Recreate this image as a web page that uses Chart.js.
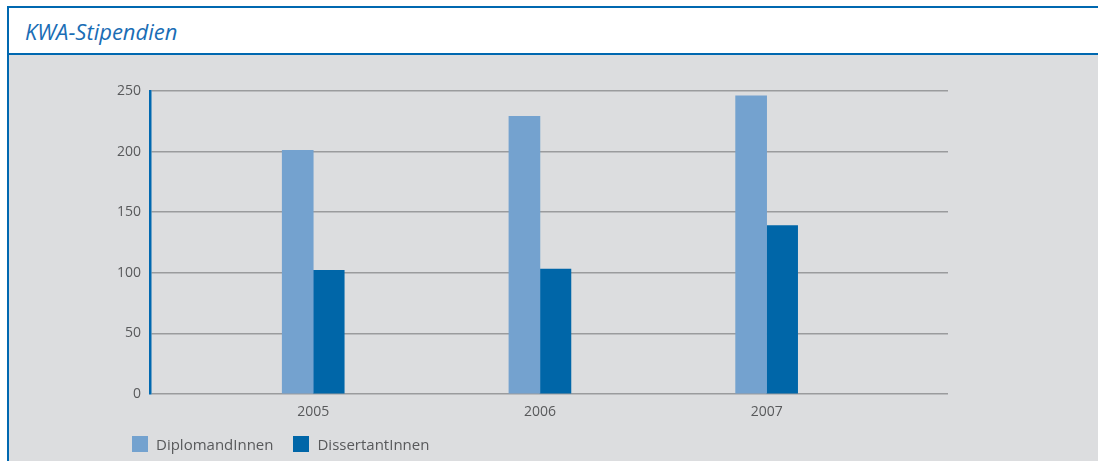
<!DOCTYPE html>
<html>
<head>
<meta charset="utf-8">
<script src="https://cdn.jsdelivr.net/npm/chart.js@4"></script>
<style>
  html, body { margin: 0; padding: 0; width: 1098px; height: 461px; overflow: hidden; background: #ffffff; font-family: "Open Sans", "Noto Sans", sans-serif; }
  #frame { position: absolute; left: 7px; top: 6px; width: 1091px; height: 455px; border-left: 2px solid #0068b0; border-top: 2px solid #0068b0; box-sizing: border-box; }
  #title { position: absolute; left: 0; top: 0; width: 100%; height: 45px; background: #fff; border-bottom: 2px solid #0068b0; box-sizing: content-box; }
  #title span { position: absolute; left: 16px; top: 8px; font-style: italic; font-size: 22px; color: #1a6db5; letter-spacing: 0px; }
  #plot { position: absolute; left: 0; top: 47px; width: 1089px; height: 406px; background: #dcdddf; }
  #chartwrap { position: absolute; left: 0; top: 0; width: 1089px; height: 406px; }
  #legend { position: absolute; left: 123px; top: 381px; font-size: 15px; color: #58595b; white-space: nowrap; }
  #legend .item { display: inline-block; margin-right: 20px; vertical-align: top; }
  #legend .sw { display: inline-block; width: 16px; height: 16px; vertical-align: top; margin-right: 8px; }
  #legend .lbl { display: inline-block; line-height: 16px; vertical-align: top; }
</style>
</head>
<body>
<div id="frame">
  <div id="title"><span>KWA-Stipendien</span></div>
  <div id="plot">
    <div id="chartwrap"><canvas id="c" width="1089" height="406"></canvas></div>
    <div id="legend"></div>
  </div>
</div>
<script>
const categories = ['2005', '2006', '2007'];
const seriesNames = ['DiplomandInnen', 'DissertantInnen'];
const diplomandInnen = [201, 229, 246];
const dissertantInnen = [102, 103, 139];
const yTicks = [0, 50, 100, 150, 200, 250];
const colors = ['#74a2cf', '#0066a8'];

const seriesValues = [diplomandInnen, dissertantInnen];

// HTML legend built from series names
const legend = document.getElementById('legend');
seriesNames.forEach((name, i) => {
  const it = document.createElement('span');
  it.className = 'item';
  const sw = document.createElement('span');
  sw.className = 'sw';
  sw.style.background = colors[i];
  const lb = document.createElement('span');
  lb.className = 'lbl';
  lb.textContent = name;
  it.appendChild(sw); it.appendChild(lb);
  legend.appendChild(it);
});

const datasets = seriesNames.map((name, i) => ({
  label: name,
  data: categories.map((c, j) => ({ x: j, y: seriesValues[i][j] })),
  backgroundColor: colors[i],
  borderWidth: 0,
  barThickness: 31,
  grouped: true
}));

new Chart(document.getElementById('c'), {
  type: 'bar',
  data: { datasets },
  options: {
    responsive: false,
    animation: false,
    devicePixelRatio: 1,
    layout: { padding: { left: 0, right: 150, top: 36, bottom: 37 } },
    plugins: { legend: { display: false }, tooltip: { enabled: false } },
    scales: {
      x: {
        type: 'linear',
        offset: false,
        min: -0.72,
        max: 2.8,
        afterBuildTicks: (scale) => { scale.ticks = categories.map((c, i) => ({ value: i })); },
        afterFit: (scale) => { scale.height = 30; },
        grid: { display: false, drawTicks: false, offset: false },
        border: { display: false },
        ticks: {
          callback: (v) => categories[Math.round(v)] ?? '',
          color: '#58595b',
          font: { family: '"Open Sans", "Noto Sans", sans-serif', size: 14 },
          padding: 10,
          maxRotation: 0,
          autoSkip: false
        }
      },
      y: {
        min: 0,
        max: 250,
        afterBuildTicks: (scale) => { scale.ticks = yTicks.map(v => ({ value: v })); },
        afterFit: (scale) => { scale.width = 141; },
        grid: { color: '#9a9b9d', lineWidth: 1.5, drawTicks: false },
        border: { display: true, color: '#0068b0', width: 2.5 },
        ticks: {
          color: '#58595b',
          font: { family: '"Open Sans", "Noto Sans", sans-serif', size: 14 },
          padding: 9
        }
      }
    }
  }
});
</script>
</body>
</html>
